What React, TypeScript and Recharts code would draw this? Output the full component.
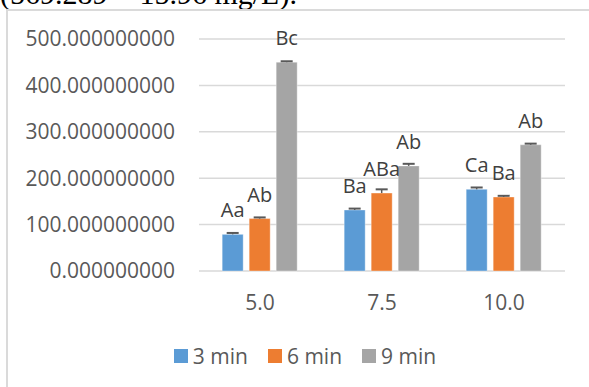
import { BarChart, Bar, XAxis, YAxis, CartesianGrid, Legend, LabelList, Rectangle } from 'recharts'

const FONT = '"Open Sans", "Segoe UI", sans-serif'

// pH levels on the category axis
const CONCENTRATIONS = ['5.0', '7.5', '10.0']

// mean values per contact time
const MIN3 = [79, 131.5, 176]
const MIN6 = [113, 168, 159.5]
const MIN9 = [450, 226.5, 272]

// upper error (standard deviation)
const ERR3 = [3, 3, 4]
const ERR6 = [2.5, 8, 2.5]
const ERR9 = [2, 4.5, 2.5]

// significance letters above each bar
const LETTERS3 = ['Aa', 'Ba', 'Ca']
const LETTERS6 = ['Ab', 'ABa', 'Ba']
const LETTERS9 = ['Bc', 'Ab', 'Ab']

const Y_TICKS = [0, 100, 200, 300, 400, 500]

const SERIES = [
  { key: 'm3', name: '3 min', color: '#5B9BD5', values: MIN3, errors: ERR3, letters: LETTERS3 },
  { key: 'm6', name: '6 min', color: '#ED7D31', values: MIN6, errors: ERR6, letters: LETTERS6 },
  { key: 'm9', name: '9 min', color: '#A5A5A5', values: MIN9, errors: ERR9, letters: LETTERS9 },
]

const chartData = CONCENTRATIONS.map((conc, i) => {
  const row: Record<string, string | number> = { conc }
  SERIES.forEach((s) => {
    row[s.key] = s.values[i]
    row[s.key + 'Err'] = s.errors[i]
    row[s.key + 'Label'] = s.letters[i]
  })
  return row
})

// bar rect plus a plus-only error whisker scaled from the bar's own height
function barWithError(key: string) {
  return (props: any) => {
    const { x, y, width, height, payload, fill } = props
    const value = Number(payload[key])
    const err = Number(payload[key + 'Err'])
    const pxPerUnit = value ? height / value : 0
    const cx = x + width / 2
    const top = y - err * pxPerUnit
    return (
      <g>
        <Rectangle x={x} y={y} width={width} height={height} fill={fill} stroke="#ffffff" strokeOpacity={0.35} />
        <line x1={cx} x2={cx} y1={y} y2={top} stroke="#595959" strokeWidth={1.5} />
        <line x1={cx - 6} x2={cx + 6} y1={top} y2={top} stroke="#595959" strokeWidth={2} />
      </g>
    )
  }
}

function renderLegend(props: any) {
  const items = props.payload || []
  return (
    <div
      style={{
        display: 'flex',
        justifyContent: 'center',
        alignItems: 'center',
        height: 30,
        fontFamily: FONT,
        fontSize: 21,
        color: '#595959',
      }}
    >
      {items.map((entry: any, i: number) => (
        <span
          key={entry.value}
          style={{ display: 'inline-flex', alignItems: 'center', marginRight: i < items.length - 1 ? 20 : 0 }}
        >
          <span style={{ width: 14, height: 14, background: entry.color, marginRight: 5 }} />
          {entry.value}
        </span>
      ))}
    </div>
  )
}

export default function App() {
  return (
    <div
      style={{
        position: 'absolute',
        left: 0,
        top: 0,
        width: 589,
        height: 387,
        overflow: 'hidden',
        background: '#ffffff',
      }}
    >
      <div
        style={{
          position: 'absolute',
          left: 0,
          top: -21.5,
          fontFamily: '"Liberation Serif", "Times New Roman", serif',
          fontSize: 30,
          lineHeight: '30px',
          whiteSpace: 'nowrap',
          color: '#000000',
        }}
      >
        (569.289 = 15.96 mg/L).
      </div>
      <div
        style={{
          position: 'absolute',
          left: 6,
          top: 9,
          width: 594,
          height: 390,
          border: '2px solid #dadada',
          background: '#ffffff',
        }}
      >
        <BarChart
          width={594}
          height={390}
          data={chartData}
          margin={{ top: 28, right: 37, left: 0, bottom: 30 }}
          barCategoryGap="19%"
          barGap={6}
        >
          <CartesianGrid vertical={false} stroke="#d9d9d9" strokeWidth={1.5} />
          <XAxis
            dataKey="conc"
            axisLine={false}
            tickLine={false}
            tickSize={0}
            tickMargin={24}
            height={70}
            tick={{ fontSize: 21, fill: '#595959', fontFamily: FONT }}
          />
          <YAxis
            domain={[0, 500]}
            ticks={Y_TICKS}
            width={191}
            axisLine={false}
            tickLine={false}
            tickSize={0}
            tickMargin={24}
            tickFormatter={(v: number) => v.toFixed(9)}
            tick={{ fontSize: 21, fill: '#595959', fontFamily: FONT }}
          />
          <Legend
            verticalAlign="bottom"
            content={renderLegend}
            wrapperStyle={{ left: 0, width: 594 }}
          />
          {SERIES.map((s) => (
            <Bar
              key={s.key}
              dataKey={s.key}
              name={s.name}
              fill={s.color}
              shape={barWithError(s.key)}
              isAnimationActive={false}
            >
              <LabelList
                dataKey={s.key + 'Label'}
                position="top"
                offset={17}
                fill="#404040"
                fontSize={20}
                fontFamily={FONT}
              />
            </Bar>
          ))}
        </BarChart>
      </div>
    </div>
  )
}
